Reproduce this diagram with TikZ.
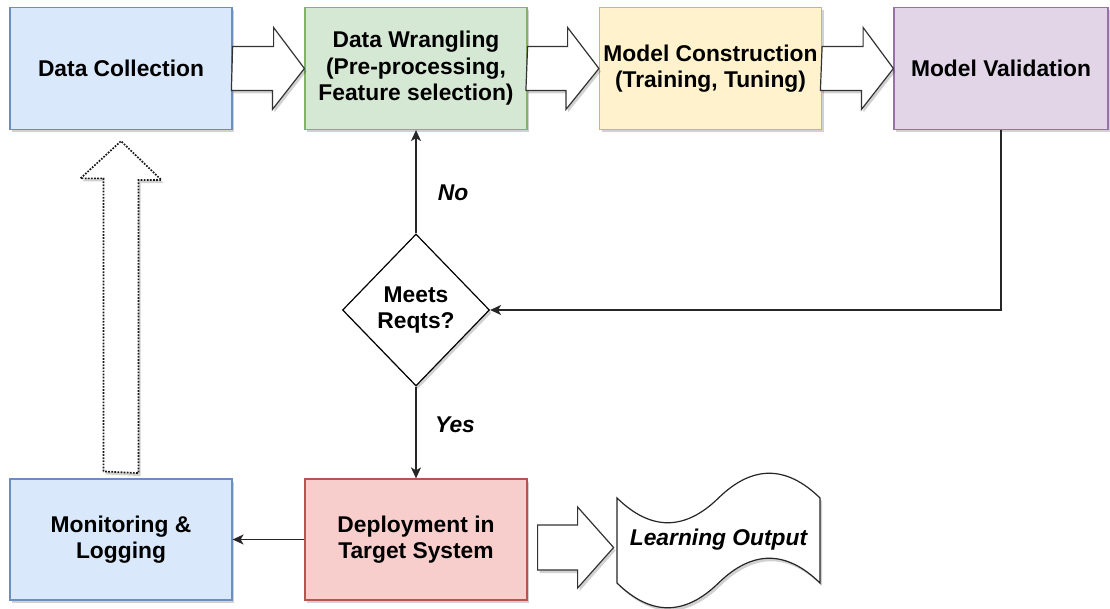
\documentclass[tikz,border=0pt]{standalone}
\usepackage{fontspec}
\setmainfont{Liberation Sans}
\usetikzlibrary{shapes.geometric,arrows.meta,calc,shadows}
\definecolor{bluefill}{HTML}{DAE8FC}\definecolor{bluedraw}{HTML}{6C8EBF}
\definecolor{greenfill}{HTML}{D5E8D4}\definecolor{greendraw}{HTML}{82B366}
\definecolor{yellowfill}{HTML}{FFF2CC}\definecolor{yellowdraw}{HTML}{D6B656}
\definecolor{purplefill}{HTML}{E1D5E7}\definecolor{purpledraw}{HTML}{9673A6}
\definecolor{redfill}{HTML}{F8CECC}\definecolor{reddraw}{HTML}{B85450}
\begin{document}
\begin{tikzpicture}[x=1pt,y=-1pt,
  font=\fontsize{22.8}{26.5}\selectfont\bfseries,
  shade/.style={drop shadow={shadow xshift=2pt,shadow yshift=-3pt,opacity=0.18,fill=black}},
  box/.style={draw, line width=1.2pt, minimum width=222pt, minimum height=122pt,
    align=center, inner sep=0pt, shade},
  decision/.style={diamond, draw, fill=white, line width=1.2pt, minimum width=147pt,
    minimum height=152pt, inner sep=0pt, align=center, shade},
  conn/.style={line width=1.4pt, draw=black!85, -{Stealth[length=11pt,width=10pt,inset=3pt]}},
  barrow/.style={draw=black!80, fill=white, line width=1.2pt, line join=miter, shade},
  darrow/.style={draw=black!90, fill=white, line width=1.7pt, dash pattern=on 1.7pt off 1.4pt, shade},
  tape/.style={line width=1.2pt, draw=black!85, fill=white, shade},
  lbl/.style={font=\fontsize{22.8}{26.5}\selectfont\bfseries\itshape, inner sep=0pt}]
\useasboundingbox[fill=white] (0,0) rectangle (1110,609);

% top row
\node[box, fill=bluefill, draw=bluedraw] (DC) at (121,68.5) {Data Collection};
\node[box, fill=greenfill, draw=greendraw] (DW) at (416,68.5) {Data Wrangling\\(Pre-processing,\\Feature selection)};
\node[box, fill=yellowfill, draw=yellowdraw] (MC) at (710.5,68.5) {Model Construction\\(Training, Tuning)};
\node[box, fill=purplefill, draw=purpledraw, minimum width=214pt] (MV) at (1001,68.5) {Model Validation};

% decision
\node[decision] (D) at (416,310) {Meets\\Reqts?};

% bottom row
\node[box, fill=bluefill, draw=bluedraw, minimum height=121pt] (ML) at (121,539.5) {Monitoring \&\\Logging};
\node[box, fill=redfill, draw=reddraw, minimum height=121pt] (DEP) at (416,539.5) {Deployment in\\Target System};

% learning output tape
\draw[tape]
  (617,498) .. controls (650.8,531) and (684.7,531) .. (718.5,498)
  .. controls (752.3,465) and (786.2,465) .. (820,498)
  -- (820,583)
  .. controls (786.2,550) and (752.3,550) .. (718.5,583)
  .. controls (684.7,616) and (650.8,616) .. (617,583) -- cycle;
\node[lbl] (LO) at (718.5,540) {Learning Output};

% block arrows
\draw[barrow] (DC.east) ++(0,-22) -- ++(41,0) -- ++(0,-19) -- (DW.west) -- ++(-32,41) -- ++(0,-19) -- ++(-41,0) -- cycle;
\draw[barrow] (DW.east) ++(0,-22) -- ++(40,0) -- ++(0,-19) -- (MC.west) -- ++(-33,41) -- ++(0,-19) -- ++(-40,0) -- cycle;
\draw[barrow] (MC.east) ++(0,-22) -- ++(41,0) -- ++(0,-19) -- (MV.west) -- ++(-32,41) -- ++(0,-19) -- ++(-41,0) -- cycle;
\coordinate (la) at ($(DEP.east)+(10,8)$);
\draw[barrow] (la) ++(0,-22.5) -- ++(40,0) -- ++(0,-18) -- ++(36,40.5) -- ++(-36,40.5) -- ++(0,-18) -- ++(-40,0) -- cycle;

% dotted feedback arrow
\coordinate (dtip) at ($(DC.south)+(0,11)$);
\coordinate (dbase) at ($(ML.north)+(0,-7)$);
\draw[darrow] (dbase) ++(-17.5,0) -- ++(0,-293) -- ++(-23,0) -- (dtip) -- ++(40.5,39) -- ++(-23,0) -- ++(0,293) -- cycle;

% connectors
\draw[conn] (D.north) -- (DW.south);
\draw[conn] (D.south) -- (DEP.north);
\draw[conn] (MV.south) |- (D.east);
\draw[conn] (DEP.west) -- (ML.east);

\node[lbl] (no) at (453,193) {No};
\node[lbl] (yes) at (455,425) {Yes};
\end{tikzpicture}
\end{document}
